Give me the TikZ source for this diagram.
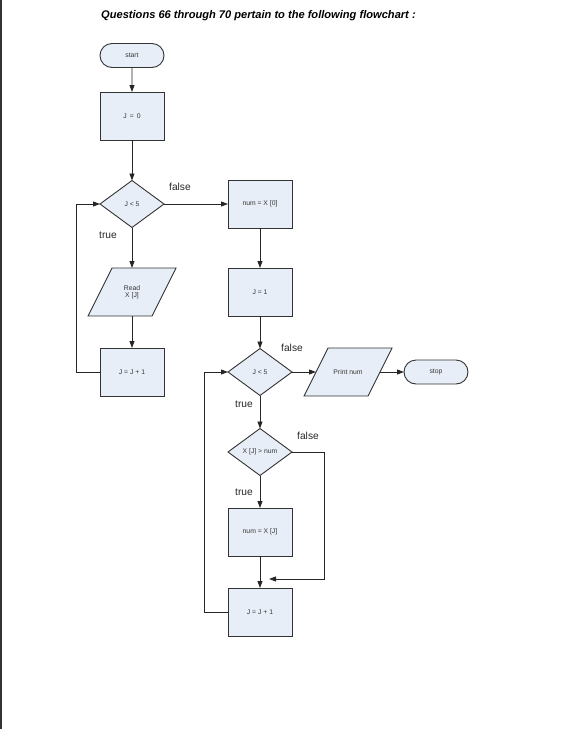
\documentclass[tikz,border=0pt]{standalone}
\usepackage{fontspec}
\setmainfont{Liberation Sans}
\usetikzlibrary{shapes.geometric,shapes.misc,arrows.meta,backgrounds}
\definecolor{boxfill}{RGB}{232,238,247}
\definecolor{boxline}{RGB}{51,51,51}
\definecolor{boxtext}{RGB}{55,55,55}
\begin{document}
\begin{tikzpicture}[x=1pt,y=-1pt,
  every node/.style={font=\fontsize{6.8}{7.5}\selectfont, text=boxtext},
  procbox/.style={draw=boxline, fill=boxfill, line width=0.9pt, rectangle, minimum width=64pt, minimum height=48pt, inner sep=0pt, outer sep=0pt},
  termbox/.style={draw=boxline, fill=boxfill, line width=0.9pt, rounded rectangle, minimum width=64pt, minimum height=24pt, inner sep=0pt, outer sep=0pt},
  decbox/.style={draw=boxline, fill=boxfill, line width=0.9pt, diamond, minimum width=64pt, minimum height=47pt, inner sep=0pt, outer sep=0pt},
  iobox/.style={rectangle, minimum width=64pt, minimum height=48pt, inner sep=0pt, outer sep=0pt, align=center},
  iofill/.style={draw=boxline, fill=boxfill, line width=0.9pt},
  conn/.style={draw=black!85, line width=0.9pt, -{Triangle[length=7pt,width=5pt]}},
  lbl/.style={font=\fontsize{10.2}{12}\selectfont, text=black!85, inner sep=0pt}
]
\useasboundingbox (0,0) rectangle (563,729);
\draw[line width=1.5pt, boxline] (0.75,0) -- (0.75,729);

\node[anchor=west, inner sep=0pt, text=black, font=\fontsize{11.1}{13}\selectfont\bfseries\itshape] (title) at (101,15.5) {Questions 66 through 70 pertain to the following flowchart :};

% left column
\node[termbox] (start) at (132,55.5) {start};
\node[procbox] (j0) at (132,116) {J \,=\, 0};
\node[decbox] (d1) at (132,204) {J < 5};
\node[iobox] (read) at (132,292) {Read\\[-1pt]X [J]};
\node[procbox] (inc1) at (132,372) {J = J + 1};

% right column
\node[procbox] (num0) at (260,204) {num = X [0]};
\node[procbox] (j1) at (260,292) {J = 1};
\node[decbox] (d2) at (260,372) {J < 5};
\node[iobox] (print) at (348,372) {Print num};
\node[termbox] (stop) at (436,372) {stop};
\node[decbox] (d3) at (260,452) {X [J] > num};
\node[procbox] (numj) at (260,532) {num = X [J]};
\node[procbox] (inc2) at (260,612) {J = J + 1};
\coordinate (join) at (269,579);

\begin{scope}[on background layer]
  \foreach \n in {read,print}{
    \path[iofill] ([xshift=12pt]\n.north west) -- ([xshift=12pt]\n.north east)
      -- ([xshift=-12pt]\n.south east) -- ([xshift=-12pt]\n.south west) -- cycle;
  }
\end{scope}

% labels
\node[lbl] (f1) at (180,187) {false};
\node[lbl] (t1) at (108,235) {true};
\node[lbl] (f2) at (292,348) {false};
\node[lbl] (t2) at (244,404) {true};
\node[lbl] (f3) at (308,436) {false};
\node[lbl] (t3) at (244,492) {true};

% connectors
\draw[conn] (start) -- (j0);
\draw[conn] (j0) -- (d1);
\draw[conn] (d1.east) -- (num0.west);
\draw[conn] (d1.south) -- (read.north);
\draw[conn] (read.south) -- (inc1.north);
\draw[conn] (inc1.west) -- ++(-24,0) |- (d1.west);
\draw[conn] (num0) -- (j1);
\draw[conn] (j1) -- (d2.north);
\draw[conn] (d2.east) -- (print.west);
\draw[conn] (print.east) -- (stop.west);
\draw[conn] (d2.south) -- (d3.north);
\draw[conn] (d3.south) -- (numj.north);
\draw[conn] (numj) -- (inc2);
\draw[conn] (d3.east) -- ++(32,0) |- (join);
\draw[conn] (inc2.west) -- ++(-24,0) |- (d2.west);
\end{tikzpicture}
\end{document}
